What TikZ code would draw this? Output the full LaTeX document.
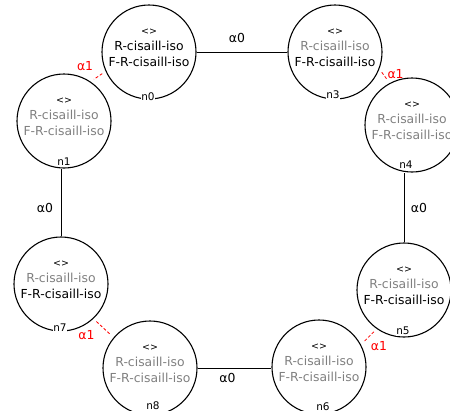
\documentclass[tikz,border=0pt]{standalone}
\usepackage{fontspec}
\setmainfont{DejaVu Sans}
\usetikzlibrary{calc}
\tikzset{
  stt/.style={circle,draw=black,line width=1.1pt,minimum size=94pt,inner sep=0pt},
  txt/.style={inner sep=0pt,font=\fontsize{12.4}{14}\selectfont},
  dia/.style={inner sep=0pt,font=\fontsize{9.5}{10}\selectfont},
  nlab/.style={fill=white,inner sep=0.6pt,font=\fontsize{10.5}{11}\selectfont},
  aedge/.style={draw=black,line width=0.9pt},
  bedge/.style={draw=red,line width=0.8pt,dash pattern=on 3pt off 2pt,shorten <=4pt,shorten >=4pt},
  alab/.style={inner sep=0pt,font=\fontsize{12.4}{14}\selectfont},
  blab/.style={inner sep=0pt,text=red,font=\fontsize{12.4}{14}\selectfont}
}
\newcommand{\mystate}[8]{%
  \node[stt] (#1) at (#2pt,-#3pt) {};
  \node[dia] (#1a) at ($(#1)+(0,20pt)$) {<>};
  \node[txt,text=#4] (#1r) at ($(#1)+(0,6.5pt)$) {R-cisaill-iso};
  \node[txt,text=#5] (#1f) at ($(#1)+(0,-10pt)$) {F-R-cisaill-iso};
  \coordinate (#1lc) at ($(#1)+(#6pt,-#7pt)$);
}
\begin{document}
\begin{tikzpicture}[x=1pt,y=1pt]
\useasboundingbox (0,0) rectangle (450,-410);
\mystate{n0}{149}{52}{black}{black}{-1}{45}{}
\mystate{n3}{335}{52}{gray}{black}{-2}{43}{}
\mystate{n1}{64}{121}{gray}{gray}{0}{41}{}
\mystate{n4}{412}{125}{gray}{gray}{-6}{40}{}
\mystate{n7}{61}{284}{gray}{black}{-1}{44}{}
\mystate{n5}{404}{290}{gray}{black}{-1}{41}{}
\mystate{n8}{150}{368}{gray}{gray}{3}{38}{}
\mystate{n6}{319}{367}{gray}{gray}{4}{40}{}
% alpha0 edges
\draw[aedge] (n0.east) -- (n3.west) node[alab,midway,xshift=-5pt,yshift=14pt] (e03) {α0};
\draw[aedge] (n7.north) -- (n7.north |- n1.south) node[alab,midway,xshift=-16pt,yshift=-5pt] (e17) {α0};
\draw[aedge] (n5.north) -- (n5.north |- n4.south) node[alab,midway,xshift=15pt,yshift=0pt] (e45) {α0};
\draw[aedge] (n8.east) -- (n8.east -| n6.west) node[alab,midway,xshift=-7pt,yshift=-10pt] (e86) {α0};
% alpha1 edges
\draw[bedge] (n0.204) -- (n1.56) node[blab,midway,xshift=-13pt,yshift=10.5pt] (e01) {α1};
\draw[bedge] (n3.-21) -- (n4.118) node[blab,midway,xshift=11pt,yshift=2pt] (e34) {α1};
\draw[bedge] (n5.235) -- (n6.28) node[blab,midway,xshift=10pt,yshift=-9pt] (e56) {α1};
\draw[bedge] (n7.-47) -- (n8.140) node[blab,midway,xshift=-17pt,yshift=-7pt] (e78) {α1};
% node labels
\foreach \n in {n0,n1,n3,n4,n5,n6,n7,n8}{
  \node[nlab] (\n lab) at (\n lc) {\n};
}
\end{tikzpicture}
\end{document}
